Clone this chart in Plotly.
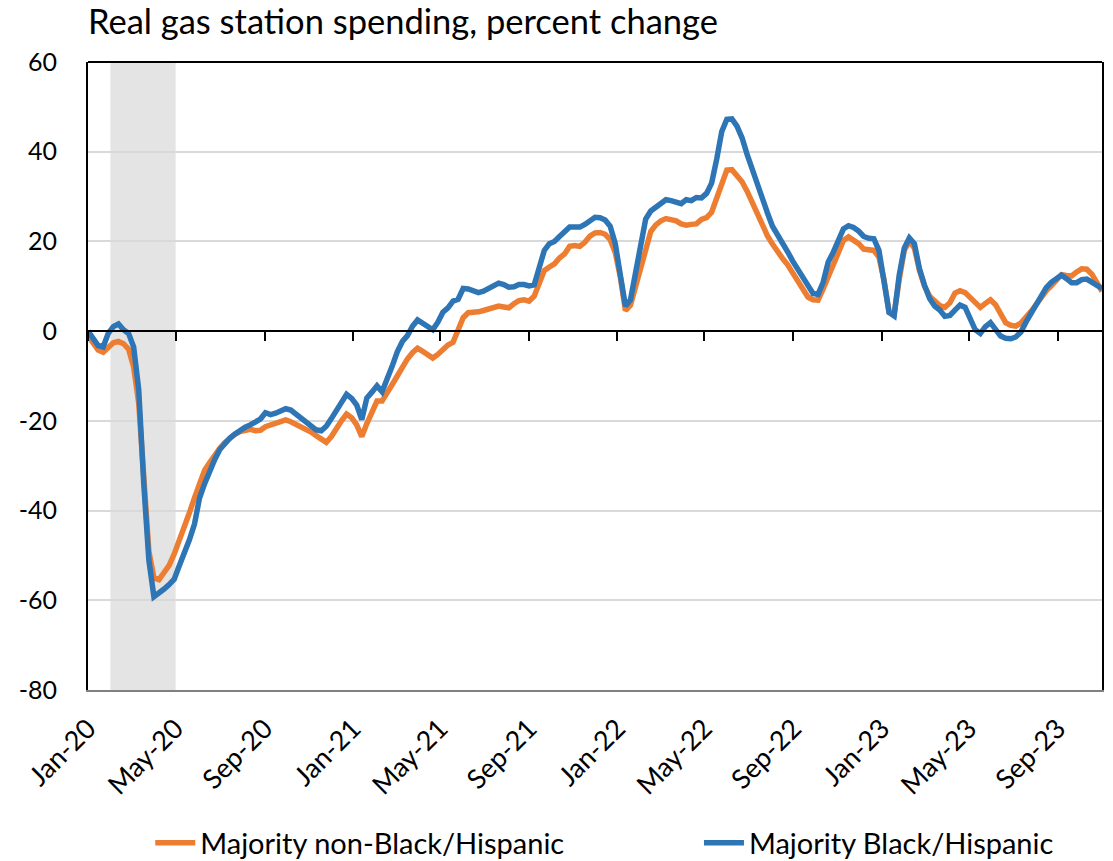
import pandas as pd
import plotly.graph_objects as go

# weekly observations, Jan 2020 - Nov 2023
dates = pd.date_range("2020-01-01", periods=201, freq="7D")

non_black_hispanic = [
    -1.0, -2.8, -4.2, -4.7, -3.8, -2.6, -2.3, -2.8, -4.0, -8.0,
    -16.0, -34.0, -49.0, -55.0, -55.4, -53.8, -52.2, -49.7, -46.8, -43.8,
    -40.5, -37.2, -34.0, -31.0, -29.3, -27.5, -26.1, -24.8, -23.8, -23.0,
    -22.4, -22.0, -21.9, -22.2, -22.1, -21.3, -20.9, -20.4, -20.0, -19.8,
    -20.2, -20.7, -21.3, -21.9, -22.5, -23.3, -24.2, -24.8, -23.5, -21.6,
    -20.0, -18.5, -19.3, -20.9, -23.5, -20.6, -17.8, -15.6, -15.6, -14.0,
    -11.9, -10.0, -8.0, -6.2, -4.8, -3.8, -4.5, -5.3, -6.0, -5.2,
    -4.0, -3.1, -2.5, 0.2, 3.0, 4.1, 4.1, 4.3, 4.6, 4.9,
    5.4, 5.6, 5.4, 5.2, 6.1, 6.8, 7.0, 6.7, 7.8, 10.4,
    13.5, 14.3, 15.0, 16.3, 17.2, 18.9, 19.1, 18.9, 19.8, 21.2,
    21.9, 22.0, 21.6, 20.4, 17.5, 12.0, 4.6, 5.8, 10.0, 14.6,
    18.8, 22.2, 23.7, 24.6, 25.1, 25.0, 24.6, 23.9, 23.6, 23.8,
    23.9, 24.9, 25.3, 26.5, 29.6, 32.8, 35.9, 36.0, 34.8, 33.3,
    31.2, 28.7, 26.0, 23.3, 21.3, 19.4, 17.6, 16.2, 14.8, 13.1,
    11.5, 9.3, 7.6, 7.0, 6.9, 9.4, 12.0, 14.6, 17.3, 20.2,
    21.0, 20.4, 19.5, 18.3, 18.1, 18.0, 16.5, 11.5, 4.2, 3.8,
    11.5, 18.0, 20.0, 18.5, 13.5, 10.0, 7.8, 6.7, 5.7, 5.3,
    6.3, 8.5, 9.0, 8.6, 7.6, 6.3, 5.3, 6.2, 7.0, 5.9,
    3.8, 1.9, 1.3, 1.1, 1.8, 2.9, 4.4, 5.9, 7.6, 9.0,
    10.1, 11.3, 12.6, 12.4, 12.3, 13.2, 13.9, 13.8, 12.7, 10.8,
    8.9,
]

black_hispanic = [
    0.0, -1.5, -3.2, -3.5, -0.5, 1.0, 1.6, 0.3, -0.5, -3.5,
    -13.0, -34.0, -51.0, -59.2, -58.5, -57.5, -56.5, -55.3, -52.3, -49.5,
    -46.5, -43.0, -37.2, -34.0, -30.9, -28.6, -26.4, -25.0, -23.8, -22.9,
    -22.1, -21.4, -20.9, -20.4, -19.6, -18.2, -18.6, -18.3, -17.8, -17.3,
    -17.6, -18.5, -19.3, -20.3, -21.2, -22.0, -22.2, -21.2, -19.5, -17.8,
    -16.0, -14.1, -15.0, -16.5, -19.7, -14.9, -13.6, -12.2, -13.5, -11.0,
    -7.8, -4.6, -2.3, -1.0, 1.1, 2.5, 1.8, 1.0, 0.3, 2.0,
    4.2, 5.2, 6.7, 7.1, 9.5, 9.4, 9.0, 8.6, 8.9, 9.5,
    10.2, 10.7, 10.4, 9.8, 9.9, 10.4, 10.4, 10.1, 10.3, 14.1,
    18.0, 19.5, 20.0, 21.1, 22.2, 23.2, 23.2, 23.2, 23.8, 24.8,
    25.4, 25.3, 24.8, 23.4, 19.5, 12.5, 5.6, 7.0, 12.8, 19.8,
    25.0, 26.8, 27.7, 28.5, 29.3, 29.1, 28.9, 28.4, 29.3, 29.1,
    29.8, 29.7, 30.7, 33.0, 38.3, 44.5, 47.2, 47.3, 45.7, 43.1,
    39.4, 36.0, 32.6, 29.4, 26.4, 23.4, 21.6, 19.8, 17.7, 15.6,
    13.6, 11.8, 10.2, 8.4, 8.2, 10.9, 15.4, 17.6, 20.0, 22.8,
    23.5, 23.1, 22.3, 21.1, 20.7, 20.6, 18.0, 11.7, 4.2, 3.4,
    12.5, 18.5, 20.8, 19.5, 13.9, 10.2, 7.3, 5.6, 4.7, 3.3,
    3.5, 4.7, 5.8, 5.3, 3.0, 0.3, -0.5, 1.0, 1.9, 0.4,
    -1.1, -1.6, -1.7, -1.3, -0.2, 2.0, 4.0, 5.9, 8.0, 9.7,
    10.9, 11.7, 12.5, 11.7, 10.8, 10.8, 11.5, 11.6, 10.8, 10.1,
    9.5,
]

y_ticks = [-80, -60, -40, -20, 0, 20, 40, 60]
y_tick_labels = ["-80", "-60", "-40", "-20", "0", "20", "40", "60"]

recession_start = "2020-02-01"
recession_end = "2020-05-01"

FONT = "Lato"
ORANGE = "#ED7D31"
BLUE = "#2E75B6"

fig = go.Figure()
fig.add_trace(go.Scatter(x=dates, y=non_black_hispanic, mode="lines",
                         name="Majority non-Black/Hispanic", legend="legend",
                         line=dict(color=ORANGE, width=5.5)))
fig.add_trace(go.Scatter(x=dates, y=black_hispanic, mode="lines",
                         name="Majority Black/Hispanic", legend="legend2",
                         line=dict(color=BLUE, width=5.5)))

# dummy trace so the zero-line axis is drawn
fig.add_trace(go.Scatter(x=[dates[0]], y=[None], xaxis="x2", showlegend=False,
                         hoverinfo="skip"))

# recession shading
fig.add_shape(type="rect", xref="x", yref="y", x0=recession_start, x1=recession_end,
              y0=-80, y1=60, fillcolor="#e4e4e4", line_width=0, layer="below")
# top border
fig.add_shape(type="line", xref="paper", yref="paper", x0=0, x1=1, y0=1, y1=1,
              line=dict(color="black", width=2))

xrange = ["2020-01-01", "2023-11-01"]
legend_common = dict(orientation="h", xref="container", yref="container",
                     xanchor="left", y=0.021, yanchor="middle",
                     font=dict(size=29), itemwidth=40,
                     bgcolor="rgba(0,0,0,0)")

fig.update_layout(
    width=1113, height=861,
    margin=dict(l=88, r=11, t=62, b=171, autoexpand=False),
    paper_bgcolor="white", plot_bgcolor="white",
    font=dict(family=FONT, size=24, color="black"),
    title=dict(text="Real gas station spending, percent change",
               xref="container", x=0.079, xanchor="left",
               yref="container", y=0.974, yanchor="middle",
               font=dict(size=34.5)),
    xaxis=dict(range=xrange, type="date", tickformat="%b-%y",
               tick0="2020-01-01", dtick="M4", tickangle=-45,
               ticks="", showgrid=False, zeroline=False, automargin=False,
               showline=True, linecolor="#808080", linewidth=2,
               tickfont=dict(size=27), ticklabelstandoff=10),
    xaxis2=dict(range=xrange, type="date", overlaying="x", anchor="free",
                position=80 / 140, tick0="2020-01-01", dtick="M4",
                ticks="outside", ticklen=9, tickwidth=2, tickcolor="black",
                showticklabels=False, showgrid=False, zeroline=False,
                automargin=False,
                showline=True, linecolor="black", linewidth=2),
    yaxis=dict(range=[-80, 60], tickvals=y_ticks, ticktext=y_tick_labels,
               showgrid=True, gridcolor="#d9d9d9", automargin=False,
               gridwidth=2, zeroline=False, showline=True, mirror=True,
               linecolor="black", linewidth=2, ticks="",
               tickfont=dict(size=25), ticklabelstandoff=24),
    legend=dict(x=0.135, **legend_common),
    legend2=dict(x=0.628, **legend_common),
)

fig.write_html("out.html", config={"displayModeBar": False},
               post_script="document.body.style.margin='0';")
